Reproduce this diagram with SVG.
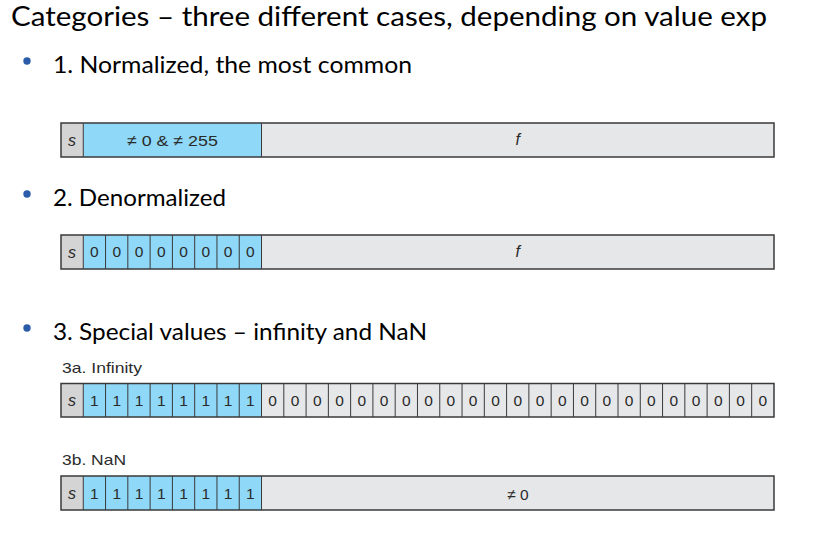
<svg xmlns="http://www.w3.org/2000/svg" width="815" height="533" viewBox="0 0 815 533">
<style>
.h{font-family:Lato,"Open Sans","Liberation Sans",sans-serif;fill:#000}
.sub{font-family:"Liberation Sans",Arial,sans-serif;font-size:15px;fill:#2b2b2b}
.bul{fill:#2a5caa}
.sc{fill:#d4d4d4}
.ec{fill:#8fd8f7}
.fc{fill:#e6e7e8}
.frame{fill:none;stroke:#3a3a3a;stroke-width:1.5}
.div{stroke:#3a3a3a;stroke-width:1}
.t{font-family:"Liberation Sans",Arial,sans-serif;font-size:15.5px;fill:#2a2a2a;text-anchor:middle}
.it{font-style:italic;font-size:16px}
</style>
<rect width="815" height="533" fill="#fff"/>
<g id="headings">
<text class="h" x="11" y="26" font-size="27" textLength="756" lengthAdjust="spacingAndGlyphs">Categories – three different cases, depending on value exp</text>
<circle class="bul" cx="27" cy="61" r="3.7"/>
<text class="h" x="53" y="73" font-size="24" textLength="359" lengthAdjust="spacingAndGlyphs">1. Normalized, the most common</text>
<circle class="bul" cx="27" cy="194" r="3.7"/>
<text class="h" x="53" y="206" font-size="24" textLength="173" lengthAdjust="spacingAndGlyphs">2. Denormalized</text>
<circle class="bul" cx="27" cy="328" r="3.7"/>
<text class="h" x="53" y="340" font-size="24" textLength="374" lengthAdjust="spacingAndGlyphs">3. Special values – infinity and NaN</text>
<text class="sub" x="62" y="372.5" textLength="80" lengthAdjust="spacingAndGlyphs">3a. Infinity</text>
<text class="sub" x="62" y="465" textLength="64" lengthAdjust="spacingAndGlyphs">3b. NaN</text>
</g>
<g id="normalized">
<rect class="sc" x="61" y="123" width="22.28" height="34"/>
<rect class="ec" x="83.28" y="123" width="178.24" height="34"/>
<rect class="fc" x="261.52" y="123" width="512.48" height="34"/>
<line class="div" x1="83.28" y1="123" x2="83.28" y2="157"/>
<line class="div" x1="261.52" y1="123" x2="261.52" y2="157"/>
<rect class="frame" x="61" y="123" width="713" height="34"/>
<text class="t it" x="72.1" y="145.5">s</text>
<text class="t" x="172.4" y="145.5" font-size="17" textLength="91" lengthAdjust="spacingAndGlyphs">≠ 0 &amp; ≠ 255</text>
<text class="t it" x="517.7" y="145">f</text>
</g>
<g id="denormalized">
<rect class="sc" x="61" y="235" width="22.28" height="34"/>
<rect class="ec" x="83.28" y="235" width="178.24" height="34"/>
<rect class="fc" x="261.52" y="235" width="512.48" height="34"/>
<g class="div">
<line x1="83.28" y1="235" x2="83.28" y2="269"/><line x1="105.56" y1="235" x2="105.56" y2="269"/><line x1="127.84" y1="235" x2="127.84" y2="269"/><line x1="150.12" y1="235" x2="150.12" y2="269"/><line x1="172.4" y1="235" x2="172.4" y2="269"/><line x1="194.68" y1="235" x2="194.68" y2="269"/><line x1="216.96" y1="235" x2="216.96" y2="269"/><line x1="239.24" y1="235" x2="239.24" y2="269"/><line x1="261.52" y1="235" x2="261.52" y2="269"/>
</g>
<rect class="frame" x="61" y="235" width="713" height="34"/>
<text class="t it" x="72.1" y="257.5">s</text>
<text class="t" x="94.42" y="257.3">0</text><text class="t" x="116.7" y="257.3">0</text><text class="t" x="138.98" y="257.3">0</text><text class="t" x="161.26" y="257.3">0</text><text class="t" x="183.54" y="257.3">0</text><text class="t" x="205.82" y="257.3">0</text><text class="t" x="228.1" y="257.3">0</text><text class="t" x="250.38" y="257.3">0</text>
<text class="t it" x="517.7" y="256.5">f</text>
</g>
<g id="infinity">
<rect class="sc" x="61" y="383.5" width="22.28" height="33.5"/>
<rect class="ec" x="83.28" y="383.5" width="178.24" height="33.5"/>
<rect class="fc" x="261.52" y="383.5" width="512.48" height="33.5"/>
<g class="div">
<line x1="83.28" y1="383.5" x2="83.28" y2="417"/><line x1="105.56" y1="383.5" x2="105.56" y2="417"/><line x1="127.84" y1="383.5" x2="127.84" y2="417"/><line x1="150.12" y1="383.5" x2="150.12" y2="417"/><line x1="172.4" y1="383.5" x2="172.4" y2="417"/><line x1="194.68" y1="383.5" x2="194.68" y2="417"/><line x1="216.96" y1="383.5" x2="216.96" y2="417"/><line x1="239.24" y1="383.5" x2="239.24" y2="417"/><line x1="261.52" y1="383.5" x2="261.52" y2="417"/><line x1="283.8" y1="383.5" x2="283.8" y2="417"/><line x1="306.08" y1="383.5" x2="306.08" y2="417"/><line x1="328.36" y1="383.5" x2="328.36" y2="417"/><line x1="350.64" y1="383.5" x2="350.64" y2="417"/><line x1="372.92" y1="383.5" x2="372.92" y2="417"/><line x1="395.2" y1="383.5" x2="395.2" y2="417"/><line x1="417.48" y1="383.5" x2="417.48" y2="417"/><line x1="439.76" y1="383.5" x2="439.76" y2="417"/><line x1="462.04" y1="383.5" x2="462.04" y2="417"/><line x1="484.32" y1="383.5" x2="484.32" y2="417"/><line x1="506.6" y1="383.5" x2="506.6" y2="417"/><line x1="528.88" y1="383.5" x2="528.88" y2="417"/><line x1="551.16" y1="383.5" x2="551.16" y2="417"/><line x1="573.44" y1="383.5" x2="573.44" y2="417"/><line x1="595.72" y1="383.5" x2="595.72" y2="417"/><line x1="618" y1="383.5" x2="618" y2="417"/><line x1="640.28" y1="383.5" x2="640.28" y2="417"/><line x1="662.56" y1="383.5" x2="662.56" y2="417"/><line x1="684.84" y1="383.5" x2="684.84" y2="417"/><line x1="707.12" y1="383.5" x2="707.12" y2="417"/><line x1="729.4" y1="383.5" x2="729.4" y2="417"/><line x1="751.68" y1="383.5" x2="751.68" y2="417"/>
</g>
<rect class="frame" x="61" y="383.5" width="713" height="33.5"/>
<text class="t it" x="72.1" y="405.5">s</text>
<text class="t" x="94.42" y="405.5">1</text><text class="t" x="116.7" y="405.5">1</text><text class="t" x="138.98" y="405.5">1</text><text class="t" x="161.26" y="405.5">1</text><text class="t" x="183.54" y="405.5">1</text><text class="t" x="205.82" y="405.5">1</text><text class="t" x="228.1" y="405.5">1</text><text class="t" x="250.38" y="405.5">1</text>
<text class="t" x="272.66" y="405.5">0</text><text class="t" x="294.94" y="405.5">0</text><text class="t" x="317.22" y="405.5">0</text><text class="t" x="339.5" y="405.5">0</text><text class="t" x="361.78" y="405.5">0</text><text class="t" x="384.06" y="405.5">0</text><text class="t" x="406.34" y="405.5">0</text><text class="t" x="428.62" y="405.5">0</text><text class="t" x="450.9" y="405.5">0</text><text class="t" x="473.18" y="405.5">0</text><text class="t" x="495.46" y="405.5">0</text><text class="t" x="517.74" y="405.5">0</text><text class="t" x="540.02" y="405.5">0</text><text class="t" x="562.3" y="405.5">0</text><text class="t" x="584.58" y="405.5">0</text><text class="t" x="606.86" y="405.5">0</text><text class="t" x="629.14" y="405.5">0</text><text class="t" x="651.42" y="405.5">0</text><text class="t" x="673.7" y="405.5">0</text><text class="t" x="695.98" y="405.5">0</text><text class="t" x="718.26" y="405.5">0</text><text class="t" x="740.54" y="405.5">0</text><text class="t" x="762.82" y="405.5">0</text>
</g>
<g id="nan">
<rect class="sc" x="61" y="476" width="22.28" height="34"/>
<rect class="ec" x="83.28" y="476" width="178.24" height="34"/>
<rect class="fc" x="261.52" y="476" width="512.48" height="34"/>
<g class="div">
<line x1="83.28" y1="476" x2="83.28" y2="510"/><line x1="105.56" y1="476" x2="105.56" y2="510"/><line x1="127.84" y1="476" x2="127.84" y2="510"/><line x1="150.12" y1="476" x2="150.12" y2="510"/><line x1="172.4" y1="476" x2="172.4" y2="510"/><line x1="194.68" y1="476" x2="194.68" y2="510"/><line x1="216.96" y1="476" x2="216.96" y2="510"/><line x1="239.24" y1="476" x2="239.24" y2="510"/><line x1="261.52" y1="476" x2="261.52" y2="510"/>
</g>
<rect class="frame" x="61" y="476" width="713" height="34"/>
<text class="t it" x="72.1" y="498.5">s</text>
<text class="t" x="94.42" y="498.5">1</text><text class="t" x="116.7" y="498.5">1</text><text class="t" x="138.98" y="498.5">1</text><text class="t" x="161.26" y="498.5">1</text><text class="t" x="183.54" y="498.5">1</text><text class="t" x="205.82" y="498.5">1</text><text class="t" x="228.1" y="498.5">1</text><text class="t" x="250.38" y="498.5">1</text>
<text class="t" x="518" y="499.5" font-size="18">≠ 0</text>
</g>
</svg>
